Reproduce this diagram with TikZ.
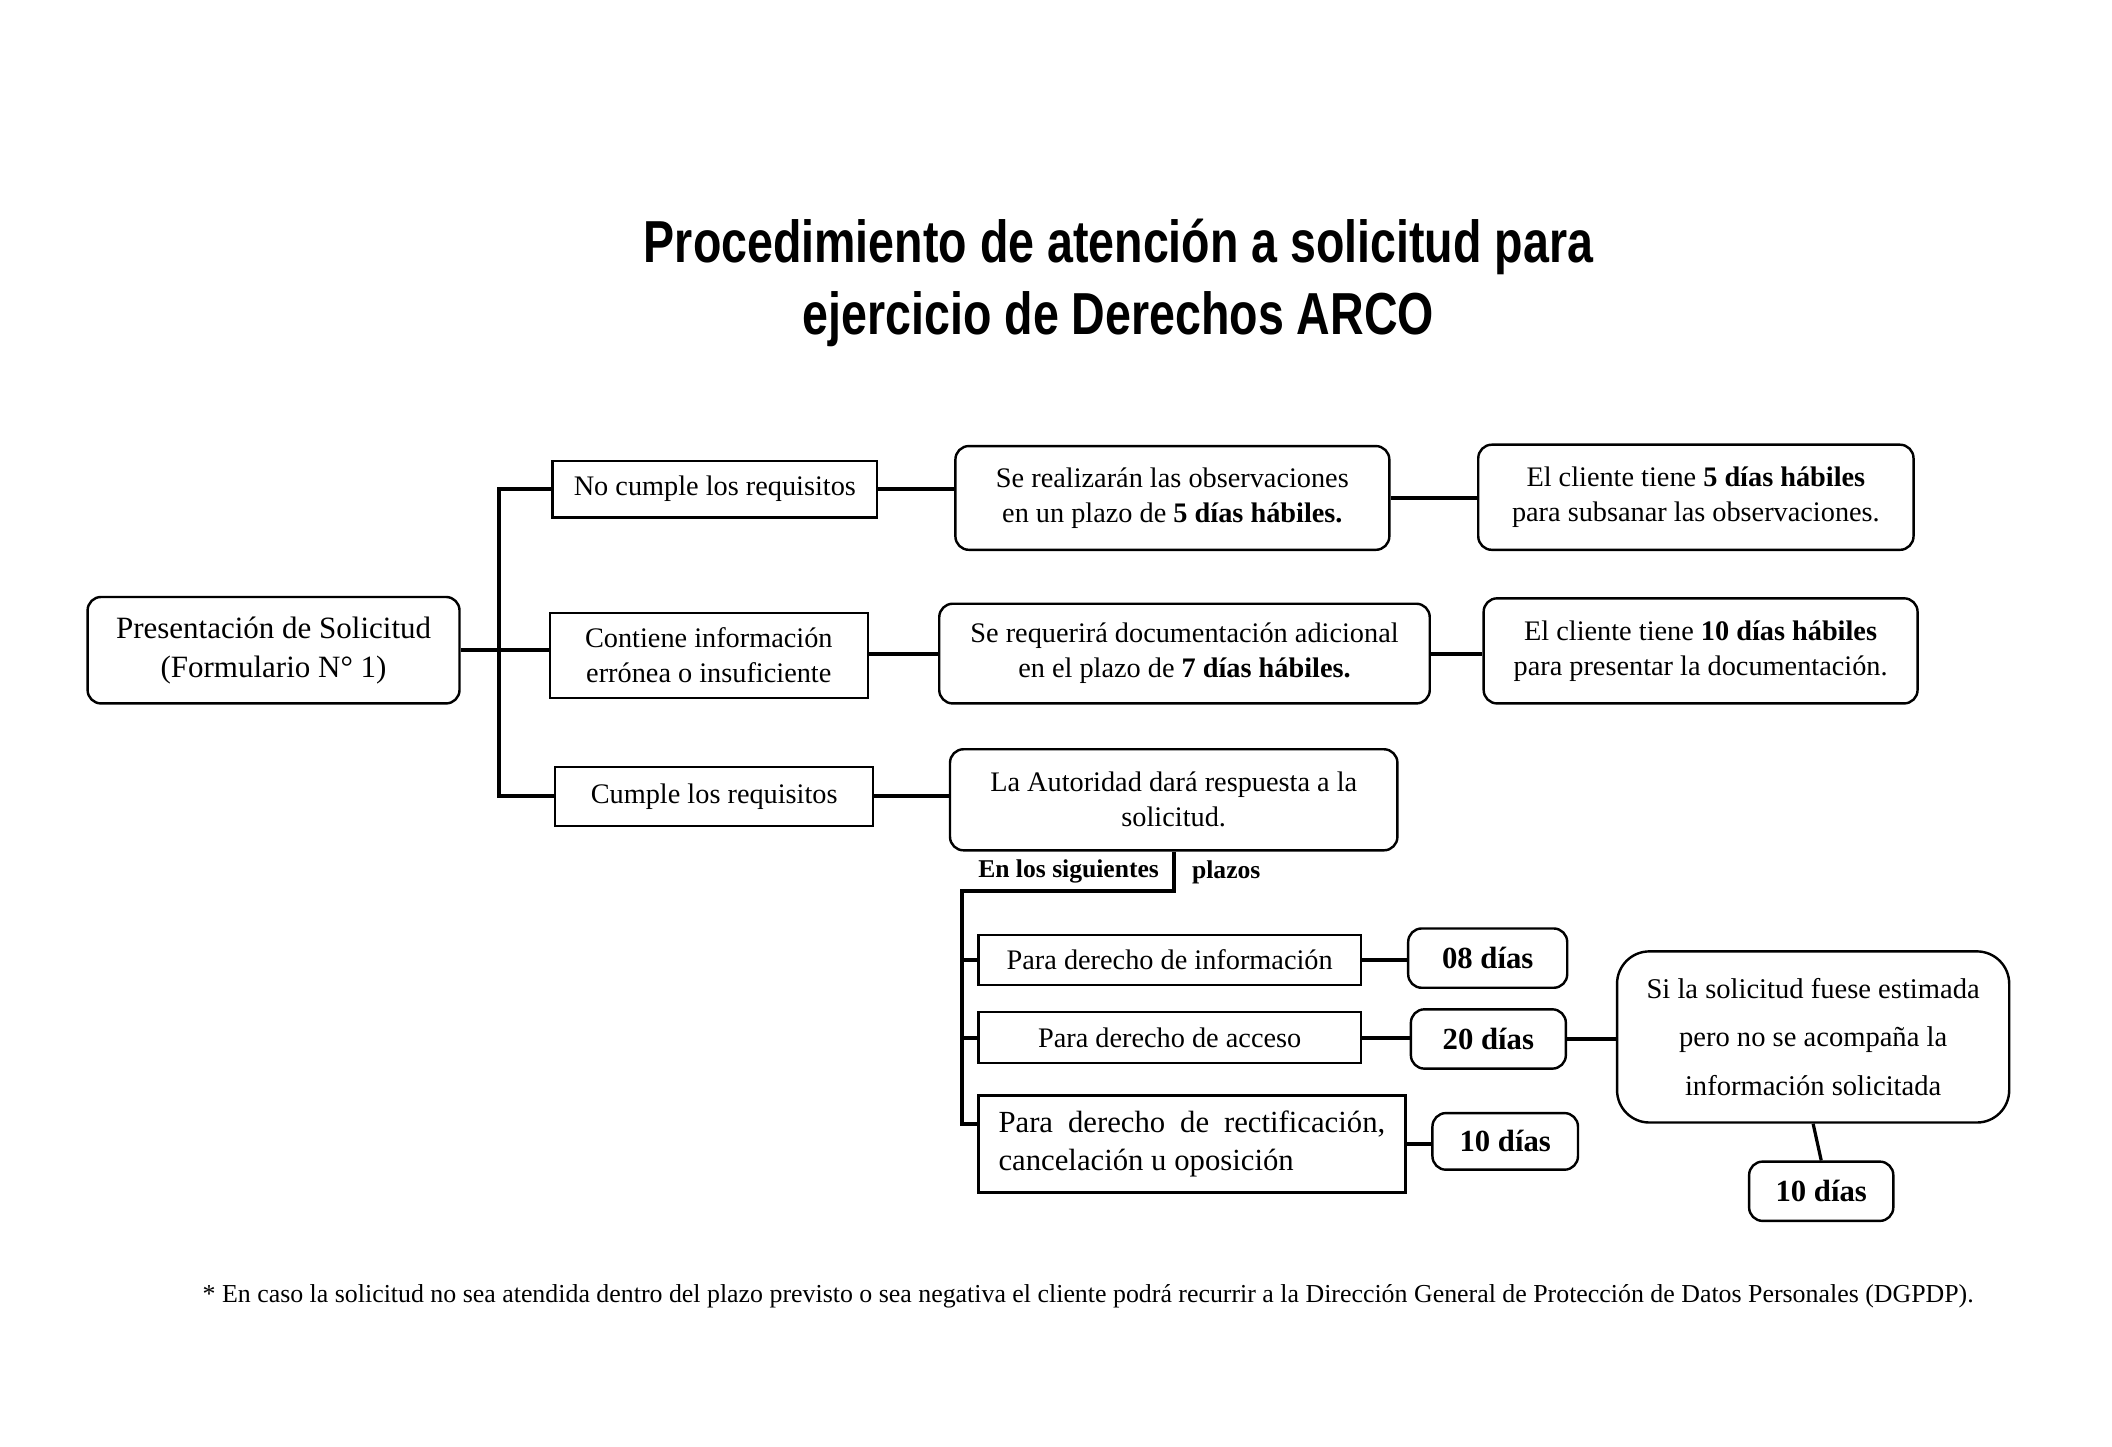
\documentclass[tikz,border=0pt]{standalone}
\usepackage{fontspec}
\setmainfont{Liberation Serif}
\newfontfamily\titlefont[FakeStretch=0.785]{Liberation Sans}
\begin{document}
\begin{tikzpicture}[x=0.5pt, y=-0.5pt,
    every node/.style={font=\fontsize{10.5}{13}\selectfont},
    caja/.style={draw, line width=0.9pt, inner sep=0pt, align=center},
    redonda/.style={caja, rounded corners=5pt},
    dias/.style={redonda, font=\fontsize{11.4}{13}\selectfont\bfseries},
    enlace/.style={line width=1.5pt}]
    \useasboundingbox (0,0) rectangle (1567.3,1073.1);
    \node[font=\titlefont\bfseries\fontsize{22}{26.5}\selectfont, align=center] (titulo) at (830,210) {Procedimiento de atención a solicitud para\\ejercicio de Derechos ARCO};
    \node[redonda, minimum width=138pt, minimum height=39.5pt, font=\fontsize{11.5}{14.5}\selectfont] (pres) at (203,482.5) {Presentación de Solicitud\\(Formulario N° 1)};
    \node[caja, minimum width=120.5pt, minimum height=21pt] (nocumple) at (530.5,363) {No cumple los requisitos};
    \node[caja, minimum width=118pt, minimum height=31.5pt] (contiene) at (526,486.5) {Contiene información\\errónea o insuficiente};
    \node[caja, minimum width=118pt, minimum height=22pt] (cumple) at (530,591) {Cumple los requisitos};
    \node[redonda, minimum width=161pt, minimum height=38.5pt] (obs) at (870,369.5) {Se realizarán las observaciones\\en un plazo de \textbf{5 días hábiles.}};
    \node[redonda, minimum width=161.5pt, minimum height=39pt] (cli5) at (1258.5,369) {El cliente tiene \textbf{5 días hábiles}\\para subsanar las observaciones.};
    \node[redonda, minimum width=182pt, minimum height=37pt] (req) at (879,485) {Se requerirá documentación adicional\\en el plazo de \textbf{7 días hábiles.}};
    \node[redonda, minimum width=161pt, minimum height=39pt] (cli10) at (1262,483) {El cliente tiene \textbf{10 días hábiles}\\para presentar la documentación.};
    \node[redonda, minimum width=166pt, minimum height=37.5pt] (aut) at (871,593.5) {La Autoridad dará respuesta a la\\solicitud.};
    \node[font=\fontsize{9.5}{11}\selectfont\bfseries] (siguientes) at (793,647) {En los siguientes};
    \node[font=\fontsize{9.5}{11}\selectfont\bfseries] (plazos) at (910,647) {plazos};
    \node[caja, minimum width=142pt, minimum height=18.5pt] (info) at (868,712.5) {Para derecho de información};
    \node[caja, minimum width=142pt, minimum height=19pt] (acceso) at (868,770) {Para derecho de acceso};
    \node[caja, minimum width=158.5pt, minimum height=36pt, text width=143.5pt, align=justify, font=\fontsize{11.4}{14}\selectfont] (rect) at (884.5,849) {\hyphenpenalty=10000\relax Para derecho de rectificación,\linebreak cancelación u oposición};
    \node[dias, minimum width=59pt, minimum height=22pt] (d08) at (1104,711) {08 días};
    \node[dias, minimum width=57.5pt, minimum height=22pt] (d20) at (1104.5,771) {20 días};
    \node[dias, minimum width=54pt, minimum height=21pt] (d10a) at (1117,847) {10 días};
    \node[redonda, rounded corners=12pt, minimum width=145.5pt, minimum height=63.5pt, font=\fontsize{10.6}{18}\selectfont] (si) at (1345.5,769.5) {Si la solicitud fuese estimada\\pero no se acompaña la\\información solicitada};
    \node[dias, minimum width=53.5pt, minimum height=22pt] (d10b) at (1351.5,884) {10 días};
    \node[font=\fontsize{9.6}{11}\selectfont] (nota) at (807.5,962) {* En caso la solicitud no sea atendida dentro del plazo previsto o sea negativa el cliente podrá recurrir a la Dirección General de Protección de Datos Personales (DGPDP).};
    \coordinate (eje) at (714,661);
    \coordinate (rtick) at ([yshift=7.5pt]rect.west);
    \draw[enlace] (pres.east) -- (pres.east -| contiene.west);
    \draw[enlace] (nocumple.west) -- ++(-39,0) |- (cumple.west);
    \draw[enlace] (nocumple.east) -- (nocumple.east -| obs.west);
    \draw[enlace] (obs.east) -- (obs.east -| cli5.west);
    \draw[enlace] (req.west -| contiene.east) -- (req.west);
    \draw[enlace] (req.east) -- (req.east -| cli10.west);
    \draw[enlace] (cumple.east) -- (cumple.east -| aut.west);
    \draw[enlace] (aut.south) |- (eje) |- (rtick);
    \draw[enlace] (eje |- info.west) -- (info.west);
    \draw[enlace] (eje |- acceso.west) -- (acceso.west);
    \draw[enlace] (info.east) -- (info.east -| d08.west);
    \draw[enlace] (acceso.east) -- (acceso.east -| d20.west);
    \draw[enlace] (rect.east) -- (rect.east -| d10a.west);
    \draw[enlace] (d20.east) -- (d20.east -| si.west);
    \draw[line width=1.2pt] (si.south) -- (d10b.north);
\end{tikzpicture}
\end{document}
